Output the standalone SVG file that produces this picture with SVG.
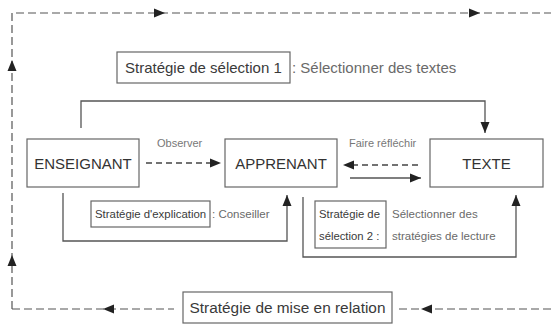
<svg xmlns="http://www.w3.org/2000/svg" xmlns:xlink="http://www.w3.org/1999/xlink" width="551" height="325" viewBox="0 0 551 325">
  <style>
    .bg { fill: #ffffff; }
    .box { fill: #ffffff; stroke: #666666; stroke-width: 1.2; }
    .node-text { font-family: "Liberation Sans", Arial, sans-serif; font-size: 15px; fill: #333333; text-anchor: middle; }
    .tag-text { font-family: "Liberation Sans", Arial, sans-serif; fill: #3a3a3a; }
    .note-text { font-family: "Liberation Sans", Arial, sans-serif; fill: #6a6a6a; }
    .label { font-family: "Liberation Sans", Arial, sans-serif; font-size: 11px; fill: #777777; }
    .solid { fill: none; stroke: #555555; stroke-width: 1.3; }
    .dash-outer { fill: none; stroke: #555555; stroke-width: 1.2; stroke-dasharray: 8 4; }
    .dash-inner { fill: none; stroke: #444444; stroke-width: 1.3; stroke-dasharray: 6 4; }
    .head { fill: #222222; }
  </style>
  <defs>
    <!-- arrowhead pointing right, tip at the origin -->
    <path id="ah" class="head" d="M0,0 L-11,-4.5 L-11,4.5 Z"/>
    <marker id="arrow" markerUnits="userSpaceOnUse" markerWidth="12" markerHeight="10" viewBox="-11 -5 12 10" refX="0" refY="0" orient="auto">
      <path class="head" d="M0,0 L-11,-4.5 L-11,4.5 Z"/>
    </marker>
  </defs>

  <rect class="bg" x="0" y="0" width="551" height="325"/>

  <g id="connectors">
    <!-- outer dashed loop -->
    <path class="dash-outer" d="M12,309 L12,13 L551,13"/>
    <path class="dash-outer" d="M12,309 L174,309"/>
    <path class="dash-outer" d="M399,309 L551,309"/>
    <use xlink:href="#ah" transform="translate(165,13)"/>
    <use xlink:href="#ah" transform="translate(480,13)"/>
    <use xlink:href="#ah" transform="translate(12,60) rotate(-90)"/>
    <use xlink:href="#ah" transform="translate(12,255) rotate(-90)"/>
    <use xlink:href="#ah" transform="translate(103,309) rotate(180)"/>
    <use xlink:href="#ah" transform="translate(421,309) rotate(180)"/>

    <!-- enseignant to texte, over the top -->
    <path class="solid" d="M81,128 L81,101 L485,101 L485,133" marker-end="url(#arrow)"/>

    <!-- observer -->
    <path class="dash-inner" d="M146,163 L214,163"/>
    <use xlink:href="#ah" transform="translate(221,163)"/>

    <!-- faire réfléchir -->
    <path class="dash-inner" d="M418,165 L350,165"/>
    <use xlink:href="#ah" transform="translate(343,165) rotate(180)"/>
    <path class="solid" d="M350,178 L421,178" marker-end="url(#arrow)"/>

    <!-- explication loop -->
    <path class="solid" d="M63,193 L63,241 L287,241 L287,195" marker-end="url(#arrow)"/>

    <!-- sélection 2 loop -->
    <path class="solid" d="M303,197 L303,257 L516,257 L516,195" marker-end="url(#arrow)"/>
  </g>

  <g id="enseignant">
    <rect class="box" x="27" y="139" width="112" height="48"/>
    <text class="node-text" x="83" y="168.5">ENSEIGNANT</text>
  </g>

  <g id="apprenant">
    <rect class="box" x="225" y="139" width="112" height="48"/>
    <text class="node-text" x="281" y="168.5">APPRENANT</text>
  </g>

  <g id="texte">
    <rect class="box" x="430" y="139" width="113" height="48"/>
    <text class="node-text" x="486.5" y="168.5">TEXTE</text>
  </g>

  <g id="label-observer">
    <text class="label" x="157" y="147">Observer</text>
  </g>

  <g id="label-reflechir">
    <text class="label" x="349" y="147">Faire réfléchir</text>
  </g>

  <g id="strategie-selection-1">
    <rect class="box" x="117" y="52" width="173" height="31"/>
    <text class="tag-text" x="125" y="73" font-size="15">Stratégie de sélection 1</text>
    <text class="note-text" x="292" y="73" font-size="15">: Sélectionner des textes</text>
  </g>

  <g id="strategie-explication">
    <rect class="box" x="91" y="201" width="119" height="26"/>
    <text class="tag-text" x="95" y="218" font-size="11.4">Stratégie d'explication</text>
    <text class="note-text" x="212" y="218" font-size="11.5">: Conseiller</text>
  </g>

  <g id="strategie-selection-2">
    <rect class="box" x="315" y="201" width="71" height="47"/>
    <text class="tag-text" x="319" y="218" font-size="11.3">Stratégie de</text>
    <text class="tag-text" x="319" y="240" font-size="11.3">sélection 2 :</text>
    <text class="note-text" x="392" y="218" font-size="11.5">Sélectionner des</text>
    <text class="note-text" x="392" y="240" font-size="11.5">stratégies de lecture</text>
  </g>

  <g id="strategie-mise-en-relation">
    <rect class="box" x="183" y="292" width="209" height="31"/>
    <text class="tag-text" x="287.5" y="313" font-size="15.4" text-anchor="middle">Stratégie de mise en relation</text>
  </g>
</svg>
